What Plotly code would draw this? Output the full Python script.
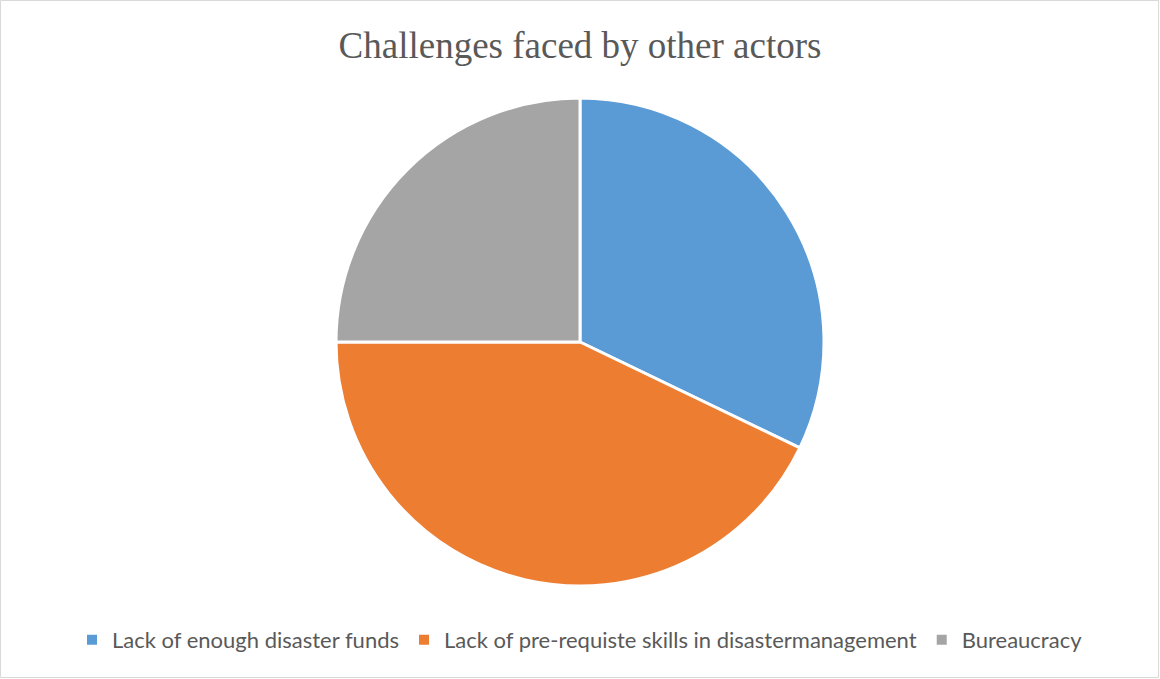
import plotly.graph_objects as go

labels = ["Lack of enough disaster funds",
          "Lack of pre-requiste skills in disastermanagement",
          "Bureaucracy"]
values = [9, 12, 7]
colors = ["#5B9BD5", "#ED7D31", "#A5A5A5"]

fig = go.Figure(go.Pie(
    labels=labels,
    values=values,
    sort=False,
    direction="clockwise",
    rotation=0,
    textinfo="none",
    hoverinfo="label+value+percent",
    marker=dict(colors=colors, line=dict(color="white", width=3)),
))

H, W = 679, 1160
mt, mb = 98, 93
ph = H - mt - mb

def py(pix):
    return (H - mb - pix) / ph

fig.update_layout(
    width=W, height=H,
    margin=dict(l=0, r=0, t=mt, b=mb),
    paper_bgcolor="white",
    plot_bgcolor="white",
    title=dict(text="Challenges faced by other actors",
               font=dict(family="Liberation Serif", size=37, color="#595959"),
               x=0.5, xanchor="center", y=1 - 45 / H, yanchor="middle"),
    legend=dict(orientation="h", x=0.5, xanchor="center",
                y=py(640), yanchor="middle",
                font=dict(family="Lato", size=22, color="#595959"),
                itemsizing="constant"),
    shapes=[dict(type="rect", xref="paper", yref="paper",
                 x0=0.5 / W, x1=1 - 1.5 / W, y0=py(677.5), y1=py(0.5),
                 line=dict(color="#D9D9D9", width=1), fillcolor="rgba(0,0,0,0)")],
)

fig.write_html("out.html",
               config={"displayModeBar": False},
               post_script="document.body.style.margin='0';document.body.style.overflow='hidden';")
